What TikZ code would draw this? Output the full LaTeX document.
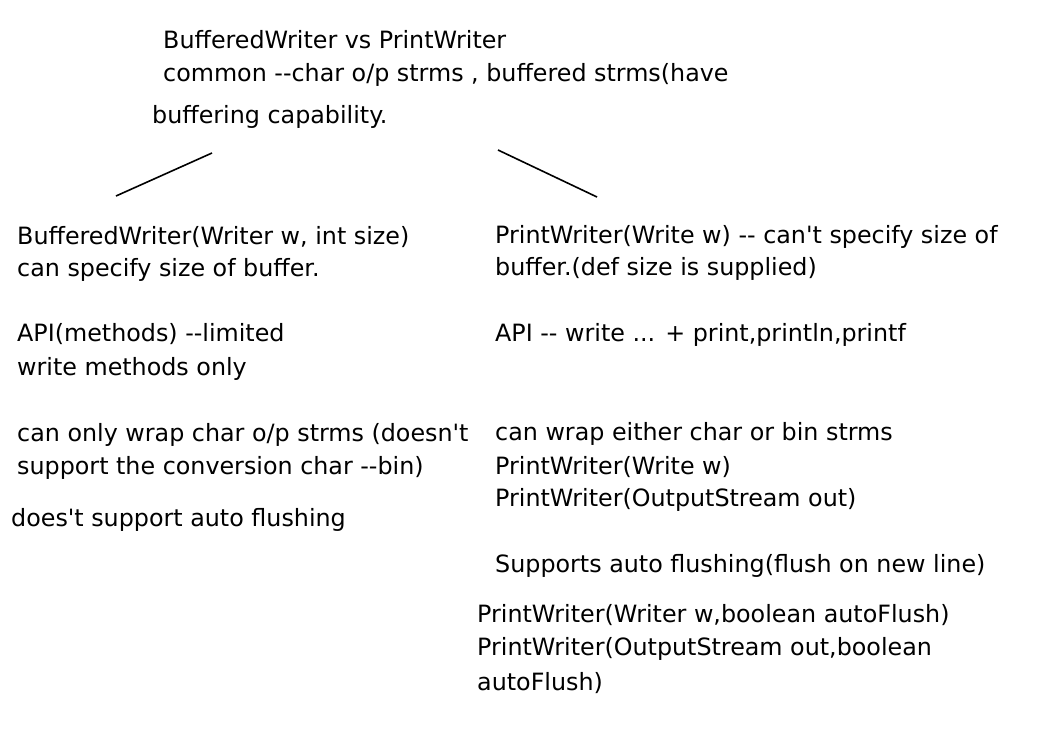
\documentclass[tikz,border=0pt]{standalone}
\usepackage{fontspec}
\font\tahfont="DejaVu Sans:" at 23.8pt
\begin{document}
\begin{tikzpicture}[x=1pt,y=-1pt,
  txt/.style={anchor=base west,inner sep=0pt,font=\tahfont},
  stroke/.style={line width=1.6pt,black}]
\useasboundingbox[fill=white] (0,0) rectangle (1056,745);
\node[txt] (t1) at (163,48) {BufferedWriter vs PrintWriter};
\node[txt] (t2) at (163,81) {common --char o/p strms , buffered strms(have};
\node[txt] (t3) at (152,123) {buffering capability.};
\coordinate (l1a) at (212,153); \coordinate (l1b) at (116,196);
\coordinate (r1a) at (498,150); \coordinate (r1b) at (597,197);
\draw[stroke] (l1a) -- (l1b);
\draw[stroke] (r1a) -- (r1b);
% left
\node[txt] (a1) at (17,244) {BufferedWriter(Writer w, int size)};
\node[txt] (a2) at (17,276) {can specify size of buffer.};
\node[txt] (a3) at (17,341) {API(methods) --limited};
\node[txt] (a4) at (17,375) {write methods only};
\node[txt] (a5) at (17,441) {can only wrap char o/p strms (doesn't};
\node[txt] (a6) at (17,474) {support the conversion char --bin)};
\node[txt] (a7) at (11,526) {does't support auto flushing};
% right
\node[txt] (b1) at (495,243) {PrintWriter(Write w) -- can't specify size of};
\node[txt] (b2) at (495,275) {buffer.(def size is supplied)};
\node[txt] (b3) at (495,341) {API -- write ... + print,println,printf};
\node[txt] (b4) at (495,440) {can wrap either char or bin strms};
\node[txt] (b5) at (495,474) {PrintWriter(Write w)};
\node[txt] (b6) at (495,506) {PrintWriter(OutputStream out)};
\node[txt] (b7) at (495,572) {Supports auto flushing(flush on new line)};
\node[txt] (b8) at (477,622) {PrintWriter(Writer w,boolean autoFlush)};
\node[txt] (b9) at (477,655) {PrintWriter(OutputStream out,boolean};
\node[txt] (b10) at (477,690) {autoFlush)};
\end{tikzpicture}
\end{document}
